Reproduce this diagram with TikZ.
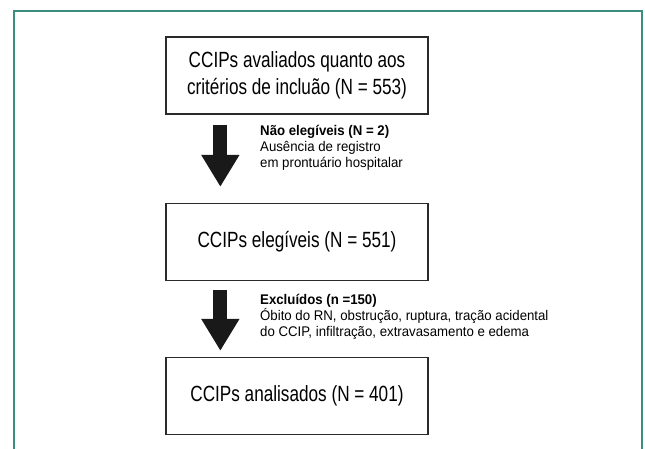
\documentclass[tikz,border=0pt]{standalone}
\usepackage{fontspec}
\setmainfont[FakeStretch=0.78]{Liberation Sans}
\newfontfamily\notafont[FakeStretch=0.945]{Liberation Sans}
\usetikzlibrary{arrows.meta}
\definecolor{framegreen}{HTML}{3D8C80}
\definecolor{boxline}{HTML}{2A2A2A}
\begin{document}
\begin{tikzpicture}[x=1pt,y=-1pt,
  caixa/.style={draw=boxline, line width=1.3pt, minimum width=262pt, minimum height=77pt,
    align=center, inner sep=0pt, font=\fontsize{22}{27}\selectfont},
  nota/.style={anchor=west, align=left, inner sep=0pt, font=\notafont\fontsize{14}{16.2}\selectfont},
  seta/.style={line width=14pt, black!90, -{Triangle[width=36pt,length=32pt]}}]
\useasboundingbox (0,0) rectangle (645,448);
% moldura
\draw[framegreen, line width=2pt] (14,450) -- (14,11) -- (642,11) -- (642,450);
% caixas
\node[caixa] (avaliados) at (297,75.5) {CCIPs avaliados quanto aos\\critérios de incluão (N = 553)};
\node[caixa] (elegiveis) at (297,242) {CCIPs elegíveis (N = 551)};
\node[caixa] (analisados) at (297,396) {CCIPs analisados (N = 401)};
% setas
\draw[seta] ([xshift=55pt,yshift=-10pt]avaliados.south west) -- ([xshift=55pt,yshift=16pt]elegiveis.north west);
\draw[seta] ([xshift=55pt,yshift=-9pt]elegiveis.south west) -- ([xshift=55pt,yshift=6pt]analisados.north west);
% notas
\node[nota] (naoeleg) at (260,148) {\textbf{Não elegíveis (N = 2)}\\Ausência de registro\\em prontuário hospitalar};
\node[nota] (excluidos) at (260,317) {\textbf{Excluídos (n =150)}\\Óbito do RN, obstrução, ruptura, tração acidental\\do CCIP, infiltração, extravasamento e edema};
\end{tikzpicture}
\end{document}
